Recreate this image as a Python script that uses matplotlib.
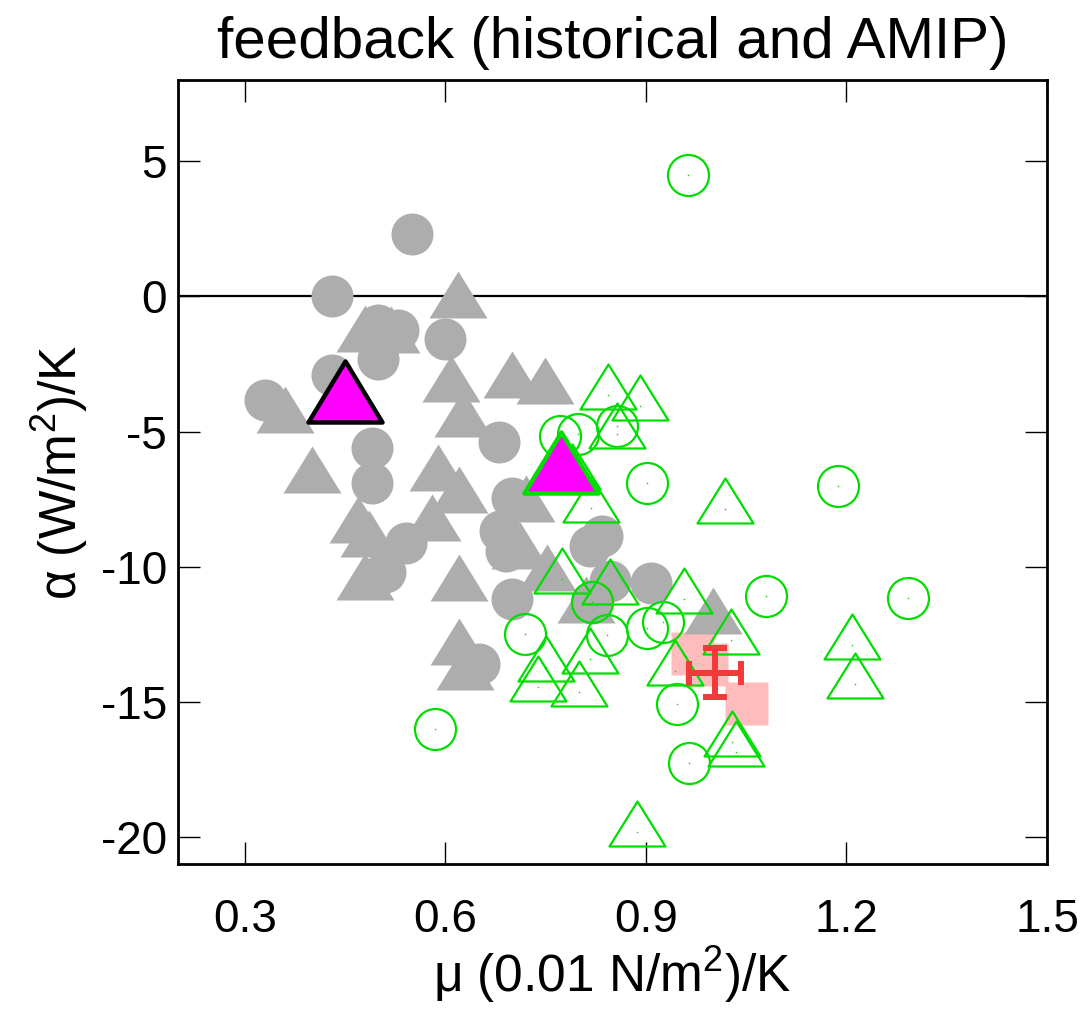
import numpy as np
import matplotlib
matplotlib.use("Agg")
import matplotlib.pyplot as plt
from matplotlib.path import Path

plt.rcParams['font.family'] = ['Liberation Sans', 'DejaVu Sans']
plt.rcParams['mathtext.fontset'] = 'custom'
plt.rcParams['mathtext.rm'] = 'Liberation Sans'

# gray: historical runs
gray_circ_mu = [0.550, 0.430, 0.499, 0.529, 0.499, 0.600, 0.430, 0.330, 0.490, 0.490,
                0.680, 0.541, 0.509, 0.651, 0.700, 0.681, 0.690, 0.700, 0.834, 0.816,
                0.846, 0.908, 0.820]
gray_circ_alpha = [2.30, 0.00, -1.07, -1.23, -2.31, -1.57, -2.89, -3.85, -5.61, -6.89,
                   -5.39, -9.11, -10.19, -13.59, -7.45, -8.66, -9.43, -11.18, -8.87, -9.24,
                   -10.52, -10.59, -11.33]
gray_tri_mu = [0.619, 0.480, 0.519, 0.609, 0.700, 0.749, 0.626, 0.360, 0.400, 0.589,
               0.620, 0.580, 0.469, 0.486, 0.480, 0.620, 0.620, 0.630, 0.721, 0.810,
               1.000, 0.752, 0.711]
gray_tri_alpha = [-0.26, -1.49, -1.55, -3.34, -3.21, -3.44, -4.63, -4.51, -6.72, -6.66,
                  -7.46, -8.51, -8.57, -9.08, -10.69, -10.72, -13.09, -14.01, -7.79, -11.52,
                  -11.92, -10.35, -9.54]

# green: AMIP runs
green_circ_mu = [0.963, 0.902, 1.187, 0.857, 0.772, 0.798, 0.820, 1.079, 1.292, 0.719,
                 0.842, 0.901, 0.926, 0.947, 0.964, 0.584]
green_circ_alpha = [4.48, -6.92, -7.03, -4.80, -5.15, -5.08, -11.29, -11.08, -11.14, -12.50,
                    -12.53, -12.25, -12.04, -15.06, -17.24, -16.01]
green_tri_mu = [0.844, 0.891, 0.857, 0.818, 1.018, 0.774, 0.846, 0.957, 1.028, 1.209,
                1.213, 0.816, 0.739, 0.800, 0.943, 1.029, 1.035, 0.887, 0.751, 0.790]
green_tri_alpha = [-3.66, -4.04, -5.08, -7.82, -7.85, -10.44, -10.87, -11.20, -12.71, -12.89,
                   -14.34, -13.41, -14.46, -14.63, -13.84, -16.46, -16.83, -19.80, -13.70, -6.60]

# multi-model means
mean_hist = (0.450, -3.91)
mean_amip = (0.773, -6.55)

# observations
obs_box_mu = [0.969, 0.990, 1.050]
obs_box_alpha = [-13.19, -13.59, -15.02]
obs_mu, obs_alpha = 1.003, -13.91
obs_mu_err, obs_alpha_err = 0.039, 0.89

px = 100 / 72.0  # pixels per point


def tri_marker(h_up, h_down, half_w):
    verts = [(0, h_up), (-half_w, -h_down), (half_w, -h_down), (0, h_up)]
    m = max(h_up, h_down, half_w)
    return Path(verts, [Path.MOVETO, Path.LINETO, Path.LINETO, Path.CLOSEPOLY]), 2 * m / px


tri, tri_ms = tri_marker(32, 15, 29)
tri_o, tri_o_ms = tri_marker(31, 14, 28)
big_tri, big_ms = tri_marker(41, 20, 37)

fig = plt.figure(figsize=(10.89, 10.11), dpi=100)
ax = fig.add_axes([0.1635, 0.1451, 0.7979, 0.7758])

ax.axhline(0, color='black', lw=1.6, zorder=1)

ax.plot(obs_box_mu, obs_box_alpha, 's', ms=43 / px, mfc='#ffbcbc', mec='none', zorder=2)

ax.plot(gray_circ_mu, gray_circ_alpha, 'o', ms=42 / px, mfc='#adadad', mec='none', zorder=3)
ax.plot(gray_tri_mu, gray_tri_alpha, ls='none', marker=tri, ms=tri_ms, mfc='#adadad',
        mec='none', zorder=3)

gc = '#00dd00'
ax.plot(green_circ_mu, green_circ_alpha, 'o', ms=41 / px, mfc='none', mec=gc, mew=1.6, zorder=4)
ax.plot(green_tri_mu, green_tri_alpha, ls='none', marker=tri_o, ms=tri_o_ms, mfc='none',
        mec=gc, mew=1.6, zorder=4)
ax.plot(green_circ_mu + green_tri_mu, green_circ_alpha + green_tri_alpha, 's', ms=1.0,
        mfc=gc, mec='none', zorder=4)

ax.plot(*mean_hist, ls='none', marker=big_tri, ms=big_ms, mfc='#ff00ff', mec='black',
        mew=3.2, zorder=5)
ax.plot(*mean_amip, ls='none', marker=big_tri, ms=big_ms, mfc='#ff00ff', mec=gc,
        mew=3.2, zorder=5)

ax.errorbar(obs_mu, obs_alpha, xerr=obs_mu_err, yerr=obs_alpha_err, fmt='none',
            ecolor='#f23a3a', elinewidth=4.3, capsize=8.7, capthick=4.3, zorder=6)

ax.set_xlim(0.2, 1.5)
ax.set_ylim(-21, 8)
ax.set_xticks([0.3, 0.6, 0.9, 1.2, 1.5])
ax.set_xticklabels(['0.3', '0.6', '0.9', '1.2', '1.5'])
ax.set_yticks([5, 0, -5, -10, -15, -20])
ax.set_yticklabels(['5', '0', '-5', '-10', '-15', '-20'])
ax.tick_params(direction='in', length=16, width=1.0, top=True, right=True,
               labelsize=33)
ax.tick_params(axis='x', pad=24)
ax.tick_params(axis='y', pad=8)
for s in ax.spines.values():
    s.set_linewidth(2.0)

ax.set_title('feedback (historical and AMIP)', fontsize=42, pad=16)
ax.set_xlabel(r'μ (0.01 N/m$^2$)/K', fontsize=37, labelpad=2)
ax.set_ylabel(r'α (W/m$^2$)/K', fontsize=37, labelpad=8)

fig.savefig('out.png', dpi=100)
